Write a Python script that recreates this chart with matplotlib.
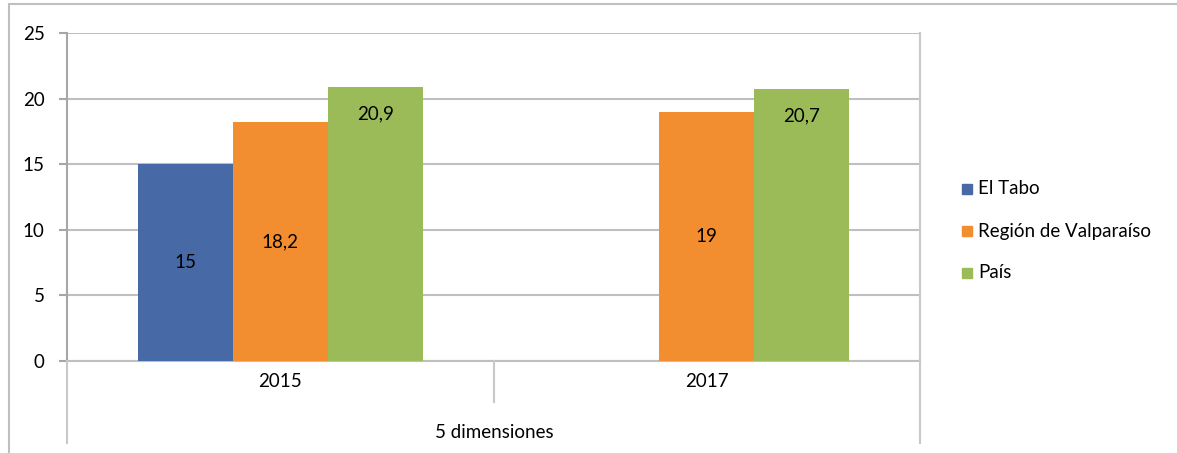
import matplotlib
matplotlib.use("Agg")
import matplotlib.pyplot as plt
import numpy as np
from matplotlib.lines import Line2D
from matplotlib.patches import Rectangle

plt.rcParams['font.family'] = ['Lato', 'DejaVu Sans']

categories = ["2015", "2017"]
group_label = "5 dimensiones"
series_names = ["El Tabo", "Región de Valparaíso", "País"]
el_tabo = [15, np.nan]
region = [18.2, 19]
pais = [20.9, 20.7]
label_el_tabo = ["15", ""]
label_region = ["18,2", "19"]
label_pais = ["20,9", "20,7"]
colors = ["#4769A5", "#F28D30", "#9BBB59"]

FS = 13.5
W, H = 1177, 453
fig = plt.figure(figsize=(W / 100, H / 100), dpi=100)

def fx(px):
    return px / W

def fy(py):
    return 1 - py / H

ax_l, ax_r, ax_t, ax_b = 67, 920, 33, 361
ax = fig.add_axes([fx(ax_l), fy(ax_b), fx(ax_r - ax_l), (ax_b - ax_t) / H])

x = np.arange(len(categories))
bw = 0.2225
series = [el_tabo, region, pais]
labels = [label_el_tabo, label_region, label_pais]
for i, (vals, labs) in enumerate(zip(series, labels)):
    pos = x + (i - 1) * bw
    ax.bar(pos, vals, width=bw, color=colors[i], label=series_names[i], zorder=3)
    for p, v, lab in zip(pos, vals, labs):
        if np.isnan(v) or not lab:
            continue
        if i == 2:
            y = v - 2.05
        else:
            y = v / 2
        ax.text(p, y, lab, ha='center', va='center', fontsize=FS, color='black', zorder=4)

ax.set_xlim(-0.5, 1.5)
ax.set_ylim(0, 25)
ax.set_yticks([0, 5, 10, 15, 20, 25])
ax.yaxis.grid(True, color='#BFBFBF', linewidth=1.5, zorder=0)
ax.set_xticks([])
ax.spines['top'].set_visible(False)
ax.spines['right'].set_color('#C8C8C8')
ax.spines['right'].set_linewidth(1.5)
ax.spines['left'].set_color('#A6A6A6')
ax.spines['left'].set_linewidth(1.5)
ax.spines['bottom'].set_color('#BFBFBF')
ax.spines['bottom'].set_linewidth(1.5)
ax.tick_params(axis='y', length=6, width=1.5, color='#A6A6A6', labelsize=FS, pad=10)

# category axis lines below plot
lc = '#C8C8C8'
fig.add_artist(Line2D([fx(67), fx(67)], [fy(361), fy(443)], color=lc, lw=1.5))
fig.add_artist(Line2D([fx(494), fx(494)], [fy(361), fy(402)], color=lc, lw=1.5))
fig.add_artist(Line2D([fx(920), fx(920)], [fy(361), fy(443)], color=lc, lw=1.5))

for i, c in enumerate(categories):
    ax.text(x[i], -0.063, c, transform=ax.get_xaxis_transform(), ha='center', va='center', fontsize=FS)
fig.text(fx(494), fy(432), group_label, ha='center', va='center', fontsize=FS)

# outer chart border
fig.add_artist(Rectangle((fx(9), fy(1000)), fx(1300), fy(4) - fy(1000), fill=False,
                         edgecolor='#BFBFBF', lw=1.5, transform=fig.transFigure))

# legend
leg_y = [189, 231, 273]
for i, name in enumerate(series_names):
    fig.add_artist(Rectangle((fx(962), fy(leg_y[i] + 5)), fx(10), 10 / H, color=colors[i],
                             transform=fig.transFigure))
    fig.text(fx(978), fy(leg_y[i]), name, ha='left', va='center', fontsize=FS)

fig.savefig("out.png", dpi=100)
